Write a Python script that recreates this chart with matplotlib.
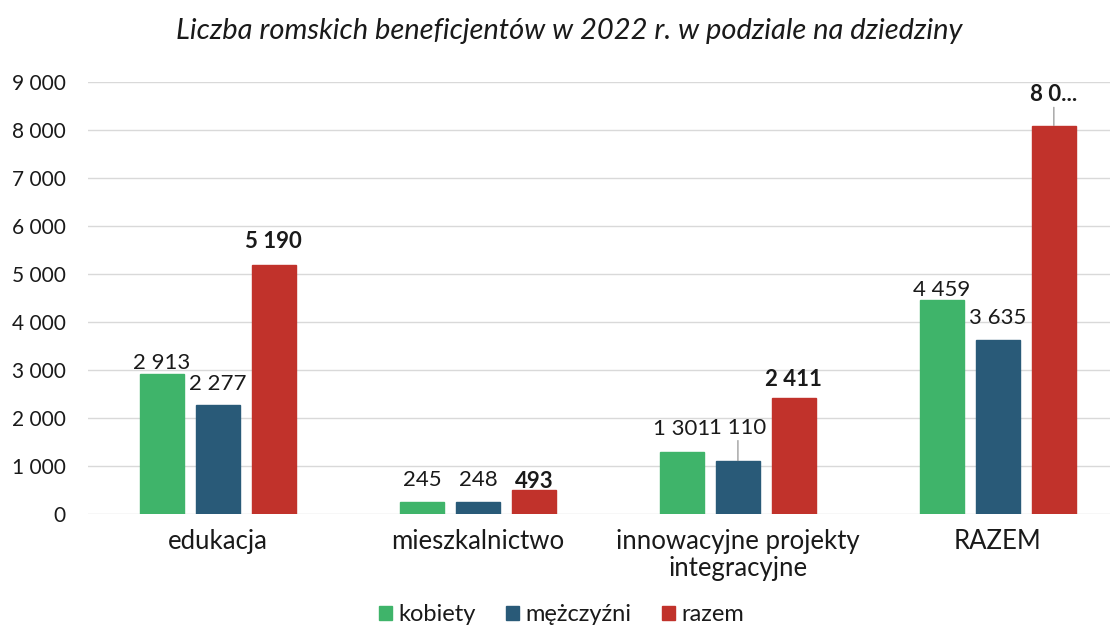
import numpy as np
import matplotlib.pyplot as plt

# data
categories = ["edukacja", "mieszkalnictwo", "innowacyjne projekty\nintegracyjne", "RAZEM"]
kobiety = [2913, 245, 1301, 4459]
mezczyzni = [2277, 248, 1110, 3635]
razem = [5190, 493, 2411, 8094]
series_names = ["kobiety", "mężczyźni", "razem"]
yticks = [0, 1000, 2000, 3000, 4000, 5000, 6000, 7000, 8000, 9000]

colors = ["#3fb46a", "#295a78", "#c1322b"]

# label gap above bar (pixels), per series / category, as placed in the original
gaps = [[5, 16, 17, 4],
        [15, 16, 27, 16],
        [17, 2, 12, 25]]

plt.rcParams['font.family'] = ['Lato', 'DejaVu Sans']

fig = plt.figure(figsize=(11.12, 6.31), dpi=100)
ax = fig.add_axes([0.079, 0.1854, 0.919, 0.6846])

x = np.arange(len(categories))
w = 0.17
off = 0.215
allvals = [kobiety, mezczyzni, razem]
for i, vals in enumerate(allvals):
    ax.bar(x + (i - 1) * off, vals, width=w, color=colors[i], label=series_names[i],
           edgecolor=colors[i], zorder=3)


def fmt(v):
    return "{:,}".format(v).replace(",", " ")


for i, vals in enumerate(allvals):
    for j, v in enumerate(vals):
        xx = x[j] + (i - 1) * off
        weight = 'bold' if i == 2 else 'normal'
        txt = fmt(v)
        if i == 2 and j == 3:
            txt = "8 0..."   # truncated in the original
        arrow = None
        if (i, j) in [(2, 3), (1, 2)]:
            arrow = dict(arrowstyle='-', color='#888888', lw=0.8, shrinkA=0, shrinkB=0)
        ax.annotate(txt, xy=(xx, v), xytext=(0, gaps[i][j]), textcoords='offset pixels',
                    ha='center', va='baseline', fontsize=16, fontweight=weight,
                    color='#1a1a1a', arrowprops=arrow)

ax.set_xlim(-0.5, 3.43)
ax.set_ylim(0, 9000)
ax.set_yticks(yticks)
ax.set_yticklabels([fmt(t) for t in yticks], fontsize=15, color='#1a1a1a')
ax.set_xticks(x)
ax.set_xticklabels(categories, fontsize=18.5, color='#1a1a1a', linespacing=1.1)
ax.tick_params(length=0)
ax.tick_params(axis='x', pad=11)
ax.tick_params(axis='y', pad=16)
ax.grid(axis='y', color='#d9d9d9', lw=1, zorder=0)
for s in ax.spines.values():
    s.set_visible(False)

fig.text(0.512, 0.951, "Liczba romskich beneficjentów w 2022 r. w podziale na dziedziny",
         ha='center', va='center', fontsize=21, style='italic', color='#1a1a1a')

fig.legend(loc='center', bbox_to_anchor=(0.505, 0.026), ncol=3, frameon=False,
           fontsize=17, handlelength=0.55, handleheight=0.55, handletextpad=0.25,
           columnspacing=1.3, labelcolor='#1a1a1a')

fig.savefig("out.png", dpi=100)
